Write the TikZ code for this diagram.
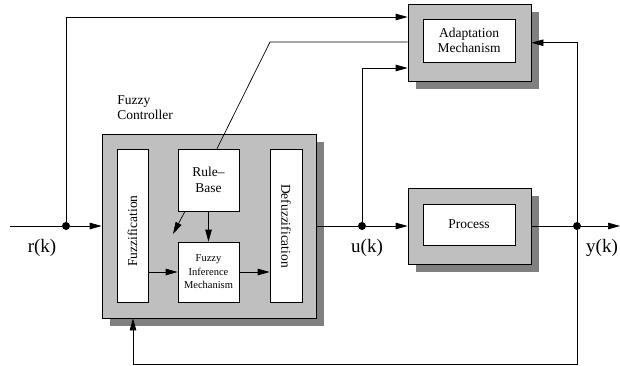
\documentclass[tikz,border=0pt]{standalone}
\usepackage{fontspec}
\setmainfont{Liberation Serif}
\usetikzlibrary{arrows.meta,shadows}
\begin{document}
\begin{tikzpicture}[x=1pt,y=-1pt,
  line width=0.7pt,
  >={Triangle[length=12pt,width=6.5pt]},
  mainfont/.style={font=\fontsize{13.5}{15.5}\selectfont},
  smallfont/.style={font=\fontsize{10.5}{13.5}\selectfont},
  sigfont/.style={font=\fontsize{19}{21}\selectfont},
  graybox/.style={draw, fill=black!25, inner sep=0pt,
    copy shadow={shadow xshift=8pt, shadow yshift=-8pt, fill=black!50, draw=none}},
  whitebox/.style={draw, fill=white, inner sep=0pt, align=center},
  dot/.style={circle, fill=black, inner sep=0pt, minimum size=8pt}]
\useasboundingbox (0,0) rectangle (620,366);

% adaptation mechanism
\node[graybox, minimum width=123pt, minimum height=76.5pt] (adapt) at (469.5,42.75) {};
\node[whitebox, mainfont, minimum width=92pt, minimum height=43pt] (adaptin) at (469,40.5) {Adaptation\\Mechanism};

% process
\node[graybox, minimum width=123pt, minimum height=76pt] (proc) at (469.5,226) {};
\node[whitebox, mainfont, minimum width=92pt, minimum height=41pt] (procin) at (469,224.5) {Process};

% controller
\node[graybox, minimum width=214pt, minimum height=184pt] (ctrl) at (209,226) {};
\node[mainfont, anchor=north west, inner sep=0pt, align=left] (ctrllabel) at (117,95) {Fuzzy\\Controller};

\node[whitebox, minimum width=31pt, minimum height=153pt] (fuzz) at (132.5,225.5) {};
\node[mainfont, rotate=90, inner sep=0pt] (fuzzt) at (132.5,231) {Fuzzification};
\node[whitebox, minimum width=32pt, minimum height=153pt] (defuzz) at (286,225.5) {};
\node[mainfont, rotate=-90, inner sep=0pt] (defuzzt) at (286,226) {Defuzzification};
\node[whitebox, mainfont, minimum width=61pt, minimum height=62pt] (rule) at (208.5,180) {Rule--\\Base};
\node[whitebox, smallfont, minimum width=61pt, minimum height=60pt] (fim) at (208.5,272) {Fuzzy\\Inference\\Mechanism};

% junctions
\coordinate (in) at (10,226);
\node[dot] (jr) at (66,226) {};
\node[dot] (ju) at (362,226) {};
\node[dot] (jy) at (577,226) {};
\coordinate (out) at (620,226);
\coordinate (k1) at (270,42);
\coordinate (fb) at (577,364);
\coordinate (d1) at (173,234);

% signal labels
\node[sigfont] (rk) at (42,248) {r(k)};
\node[sigfont] (uk) at (367,248) {u(k)};
\node[sigfont] (yk) at (602,248) {y(k)};

% connectors
\draw (in) -- (jr);
\draw[->] (jr) -- (ctrl.west);
\draw[->] (jr) |- ([yshift=25.75pt]adapt.west);
\draw ([xshift=8.5pt]rule.north) -- (k1) -- ([yshift=0.75pt]adapt.west);
\draw (ctrl.east) -- (ju);
\draw[->] (ju) -- (proc.west);
\draw[->] (ju) |- ([yshift=-25.25pt]adapt.west);
\draw (proc.east) -- (jy);
\draw[->] (jy) -- (out);
\draw[->] (jy) |- (adapt.east);
\draw[->] (jy) -- (fb) -| ([xshift=-76pt]ctrl.south);

\draw[->] (rule) -- (fim);
\draw[->] ([xshift=-23.5pt]rule.south) -- (d1);
\draw[->] (fuzz.east |- fim) -- (fim.west);
\draw[->] (fim.east) -- (defuzz.west |- fim);
\end{tikzpicture}
\end{document}
